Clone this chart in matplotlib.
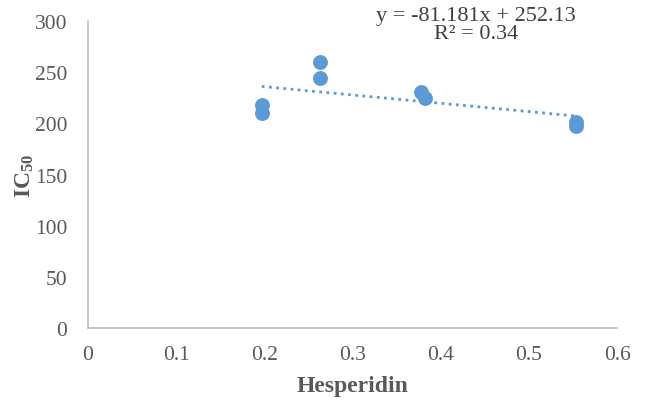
import numpy as np
import matplotlib
matplotlib.use('Agg')
import matplotlib.pyplot as plt

plt.rcParams['font.family'] = 'Liberation Serif'
plt.rcParams['mathtext.fontset'] = 'custom'
plt.rcParams['mathtext.rm'] = 'Liberation Serif'
plt.rcParams['mathtext.bf'] = 'Liberation Serif:bold'

# hesperidin content vs IC50
hesperidin = [0.197, 0.197, 0.263, 0.263, 0.377, 0.382, 0.553, 0.553]
ic50 = [218, 210, 260, 244, 231, 225, 201, 197]

# linear trendline as reported
slope = -81.181
intercept = 252.13
r2 = 0.34

xticks = [0, 0.1, 0.2, 0.3, 0.4, 0.5, 0.6]
yticks = [0, 50, 100, 150, 200, 250, 300]

blue = '#5B9BD5'
grey = '#595959'

fig = plt.figure(figsize=(6.47, 4.02), dpi=100)
ax = fig.add_axes([0.136, 0.1816, 0.818, 0.7634])

ax.scatter(hesperidin, ic50, s=115, color=blue, zorder=3, linewidths=0)

xs = np.array([min(hesperidin), max(hesperidin)])
ax.plot(xs, slope * xs + intercept, color=blue, lw=2.0,
        linestyle=(0, (1, 1.6)), zorder=2)

ax.set_xlim(0, 0.6)
ax.set_ylim(0, 300)
ax.set_xticks(xticks)
ax.set_yticks(yticks)
ax.set_xticklabels([('%g' % t) for t in xticks])
ax.tick_params(length=0, labelsize=15.5, labelcolor=grey)
ax.tick_params(axis='x', pad=12)
ax.tick_params(axis='y', pad=15)

for side in ['top', 'right']:
    ax.spines[side].set_visible(False)
for side in ['left', 'bottom']:
    ax.spines[side].set_color('#BFBFBF')
    ax.spines[side].set_linewidth(1.2)

ax.set_xlabel('Hesperidin', fontsize=17, fontweight='bold', color=grey, labelpad=8)
ax.set_ylabel(r'$\mathbf{IC_{50}}$', fontsize=17, color=grey, labelpad=-1)

eq = 'y = %.3fx + %.2f' % (slope, intercept)
fig.text(0.736, 0.958, eq, ha='center', va='center', fontsize=16, color='#404040')
fig.text(0.736, 0.913, 'R² = %.2f' % r2, ha='center', va='center',
         fontsize=16, color='#404040')

fig.savefig('out.png', dpi=100)
